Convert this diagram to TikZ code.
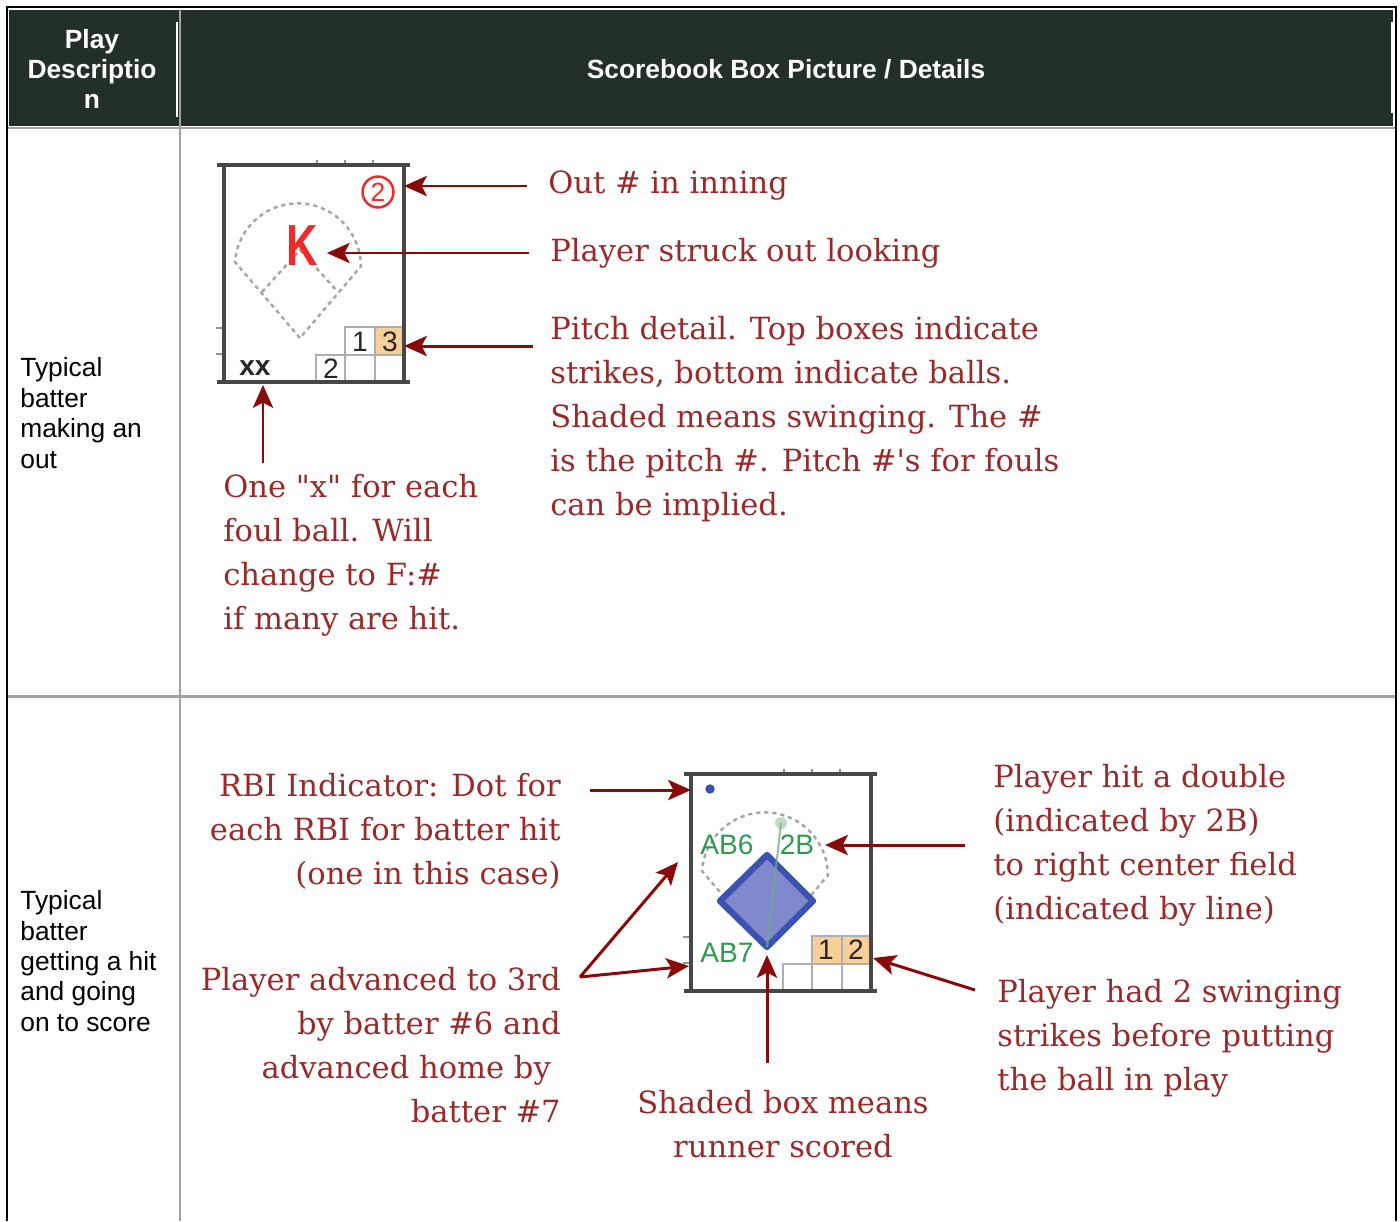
\documentclass[tikz,border=0pt]{standalone}
\usepackage{fontspec}
\setmainfont{Liberation Sans}
\newfontfamily\notefont{DejaVu Serif}
\usetikzlibrary{arrows.meta}

\definecolor{headgreen}{HTML}{233027}
\definecolor{rulegray}{HTML}{A2A2A2}
\definecolor{notered}{HTML}{9A2A2A}
\definecolor{arrowred}{HTML}{8A0A0A}
\definecolor{markred}{HTML}{EE2B2B}
\definecolor{pitchtan}{HTML}{F7CF98}
\definecolor{boxgray}{HTML}{474747}
\definecolor{cellgray}{HTML}{AEAEAE}
\definecolor{fieldgray}{HTML}{A6A6A6}
\definecolor{abgreen}{HTML}{2F9A50}
\definecolor{hitgreen}{HTML}{6DAF82}
\definecolor{basefill}{HTML}{8089CC}
\definecolor{baseblue}{HTML}{3B52B0}

\tikzset{
  outerline/.style={draw=black, line width=1.4pt},
  cellrule/.style={draw=rulegray, line width=1.7pt},
  headtext/.style={text=white, align=center, inner sep=0pt, font=\bfseries\fontsize{15}{17.3}\selectfont},
  rowlabel/.style={anchor=west, align=left, inner sep=0pt, font=\fontsize{15}{17.3}\selectfont},
  note/.style={text=notered, inner sep=0pt, font=\notefont\fontsize{17.4}{25}\selectfont},
  pointer/.style={draw=arrowred, line width=1.7pt, -{Stealth[length=13pt, width=11.5pt, inset=3pt]}},
  scoreline/.style={draw=boxgray, line width=2.2pt},
  tickmark/.style={draw=boxgray!60, line width=1.1pt},
  pitchcell/.style={draw=cellgray, line width=1.1pt},
  field/.style={draw=fieldgray, line width=1.4pt, dash pattern=on 2.4pt off 2.2pt},
  cellnum/.style={inner sep=0pt, text=black!85, font=\fontsize{16}{16}\selectfont},
  foulmark/.style={inner sep=0pt, text=black!85, font=\bfseries\fontsize{16}{16}\selectfont},
  outmark/.style={circle, draw=markred, line width=1.4pt, text=markred, minimum size=0.62cm, inner sep=0pt, font=\fontsize{15}{15}\selectfont},
  kmark/.style={text=markred, inner sep=5pt, font=\bfseries\fontsize{33}{33}\selectfont},
  abtext/.style={text=abgreen, inner sep=0pt, font=\fontsize{16}{16}\selectfont},
  rbidot/.style={circle, fill=baseblue, inner sep=0pt, minimum size=0.19cm},
  basepath/.style={draw=baseblue, line width=3.6pt, line join=round, fill=basefill},
  hitline/.style={draw=hitgreen, line width=1.2pt, opacity=0.75},
  hitdot/.style={fill=hitgreen, opacity=0.45},
}

\begin{document}
\begin{tikzpicture}[x=0.02cm, y=-0.02cm]
  \useasboundingbox (0,0) rectangle (1400,1221);

  % Table frame and header band
  \fill[headgreen] (9,10) rectangle (1393,126);
  \draw[cellrule] (8,128) -- (1395,128);
  \draw[cellrule] (8,696) -- (1395,696);
  \draw[cellrule] (180,10) -- (180,1221);
  \draw[white, line width=0.8pt] (177,22) -- (177,117);
  \draw[white, line width=0.8pt] (1392,22) -- (1392,113);
  \draw[outerline] (7,1221) -- (7,7) -- (1396,7) -- (1396,1221);

  % Header texts
  \node[headtext] (col_play) at (92,69) {Play\\Descriptio\\n};
  \node[headtext] (col_box) at (786,69) {Scorebook Box Picture / Details};

  % Row labels
  \node[rowlabel] (row_out) at (20,413) {Typical\\batter\\making an\\out};
  \node[rowlabel] (row_hit) at (20,961) {Typical\\batter\\getting a hit\\and going\\on to score};

  % Shaded pitch cells (swinging strikes)
  \fill[pitchtan] (375,327) rectangle (404,355);
  \fill[pitchtan] (812,936) rectangle (871,964);

  % Both scorebook boxes share frame, field and pitch grid
  \foreach \dx/\dy/\b in {0/0/b1, 467/609/b2} {
    \begin{scope}[shift={(\dx,\dy)}]
      \coordinate (\b_nw) at (224,165);
      \coordinate (\b_se) at (404,382);
      \coordinate (\b_home) at (300,338);
      \draw[field] (\b_home) -- (235,262) arc[start angle=184, end angle=360, radius=63] -- cycle;
      \draw[field] (262,292) -- (300,250) -- (338,292);
      \draw[pitchcell] (345,327) rectangle (375,355) (375,327) rectangle (404,355);
      \draw[pitchcell] (316,355) rectangle (345,382) (345,355) rectangle (375,382) (375,355) rectangle (404,382);
      \foreach \tx in {317,345,373} \draw[tickmark] (\tx,160) -- (\tx,166);
      \foreach \ty in {328,354} \draw[tickmark] (216,\ty) -- (224,\ty);
      \draw[scoreline] (\b_nw) rectangle (\b_se);
      \draw[scoreline] (217,165) -- (410,165) (217,382) -- (410,382);
    \end{scope}
  }

  % Marks of the strike-out box
  \node[outmark] (outnum) at (378,192) {2};
  \node[kmark] (kmark) at (302,246) {\scalebox{0.75}[1]{K}};
  \node[cellnum] (strike_one) at (360,342) {1};
  \node[cellnum] (strike_three) at (390,342) {3};
  \node[cellnum] (ball_two) at (331,369) {2};
  \node[foulmark] (fouls) at (255,368) {xx};

  % Marks of the hit box
  \draw[basepath] (767,855) -- (813,901) -- (767,947) -- (720,901) -- cycle;
  \draw[hitline] (b2_home) -- (781,823);
  \fill[hitdot] (781,823) circle (6);
  \node[rbidot] (rbi_dot) at (710,789) {};
  \node[abtext] (ab6) at (727,845) {AB6};
  \node[abtext] (hit2b) at (797,845) {2B};
  \node[abtext] (ab7) at (727,953) {AB7};
  \node[cellnum] (strike_a) at (826,950) {1};
  \node[cellnum] (strike_b) at (856,950) {2};

  % Notes of the first row
  \node[note, anchor=west] (out_note) at (548,186) {Out \# in inning};
  \node[note, anchor=west] (k_note) at (550,253) {Player struck out looking};
  \node[note, anchor=west, align=left] (pitch_note) at (550,419) {Pitch detail. Top boxes indicate\\strikes, bottom indicate balls.\\Shaded means swinging. The \#\\is the pitch \#. Pitch \#\textquotesingle s for fouls\\can be implied.};
  \node[note, anchor=west, align=left] (foul_note) at (223,555) {One "x" for each\\foul ball. Will\\change to F:\#\\if many are hit.};

  % Notes of the second row
  \node[note, anchor=east, align=right] (rbi_note) at (561,831) {RBI Indicator: Dot for\\each RBI for batter hit\\(one in this case)};
  \node[note, anchor=east, align=right] (adv_note) at (561,1045) {Player advanced to 3rd\\by batter \#6 and\\advanced home by\rule{0.32em}{0pt}\\batter \#7};
  \node[note, anchor=west, align=left] (double_note) at (993,845) {Player hit a double\\(indicated by 2B)\\to right center field\\(indicated by line)};
  \node[note, anchor=west, align=left] (swing_note) at (997,1038) {Player had 2 swinging\\strikes before putting\\the ball in play};
  \node[note, align=center] (scored_note) at (783,1124) {Shaded box means\\runner scored};

  % Pointers of the first row
  \draw[pointer] ([xshift=-12pt]out_note.west) -- (out_note.west -| b1_se);
  \draw[pointer] ([xshift=-12pt]k_note.west) -- (k_note.west -| kmark.east);
  \coordinate (pitch_tail) at (533,346);
  \draw[pointer] (pitch_tail) -- (pitch_tail -| b1_se);
  \coordinate (foul_tail) at (263,463);
  \draw[pointer, shorten >=0.06cm] (foul_tail) -- (foul_tail |- b1_se);

  % Pointers of the second row
  \coordinate (rbi_tail) at (590,790);
  \draw[pointer] (rbi_tail) -- (rbi_tail -| b2_nw);
  \coordinate (adv_tail) at (580,977);
  \coordinate (adv_tip_a) at (678,862);
  \coordinate (adv_tip_b) at (689,966);
  \draw[pointer] (adv_tail) -- (adv_tip_a);
  \draw[pointer] (adv_tail) -- (adv_tip_b);
  \coordinate (double_tail) at (965,845);
  \draw[pointer] (double_tail) -- ([xshift=6pt]hit2b.east);
  \coordinate (swing_tail) at (975,990);
  \coordinate (swing_tip) at (873,958);
  \draw[pointer] (swing_tail) -- (swing_tip);
  \coordinate (scored_tail) at (767,1063);
  \draw[pointer, shorten >=0.16cm] (scored_tail) -- (b2_home);
\end{tikzpicture}
\end{document}
